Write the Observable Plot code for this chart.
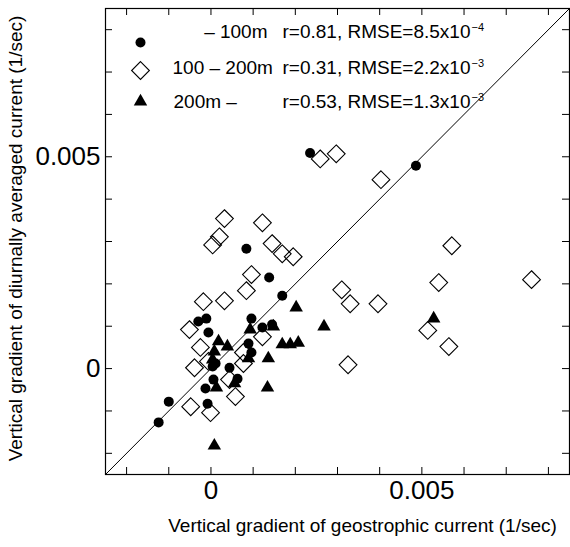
<!DOCTYPE html>
<html><head><meta charset="utf-8">
<script src="https://cdn.jsdelivr.net/npm/d3@7"></script>
<script src="https://cdn.jsdelivr.net/npm/@observablehq/plot@0.6"></script>
<style>body{margin:0;background:#fff}</style>
</head><body><div id="chart"></div>
<script>
// ---- data (1/sec) ----
// depth: - 100m (filled circles)
const shallowX = [0.00235,0.00486,0.00084,0.00138,0.00169,-0.00030,-0.00011,-0.00006,0.00096,0.00122,0.00145,0.00089,0.00096,0.00004,0.00011,0.00044,0.00006,0.00063,-0.00013,-0.00008,-0.00100,-0.00124];
const shallowY = [0.00509,0.00479,0.00283,0.00215,0.00172,0.00111,0.00118,0.00085,0.00118,0.00097,0.00104,0.00059,0.00038,0.00005,0.00012,0.00002,-0.00026,-0.00024,-0.00047,-0.00083,-0.00078,-0.00127];
// depth: 100 - 200m (open diamonds)
const midX = [0.00259,0.00297,0.00403,0.00032,0.00122,0.00020,0.00004,0.00145,0.00169,0.00195,0.00096,0.00084,-0.00018,0.00032,0.00571,0.00760,0.00540,0.00310,0.00330,0.00396,0.00514,0.00564,0.00325,-0.00051,-0.00025,-0.00039,-0.00048,-0.00001,0.00058,0.00044,0.00077,0.00122,-0.00006,0.00077];
const midY = [0.00495,0.00507,0.00446,0.00354,0.00344,0.00311,0.00292,0.00295,0.00271,0.00264,0.00222,0.00184,0.00158,0.00160,0.00290,0.00210,0.00203,0.00186,0.00153,0.00153,0.00090,0.00052,0.00009,0.00092,0.00050,0.00002,-0.00090,-0.00104,-0.00066,-0.00026,0.00038,0.00075,0.00017,0.00012];
// depth: 200m - (filled triangles)
const deepX = [0.00202,0.00268,0.00528,0.00093,0.00148,0.00018,0.00039,0.00008,0.00169,0.00188,0.00207,0.00089,0.00136,0.00004,0.00056,0.00013,0.00134,0.00008];
const deepY = [0.00144,0.00099,0.00118,0.00092,0.00099,0.00064,0.00052,0.00040,0.00057,0.00057,0.00061,0.00024,0.00024,0.00021,-0.00035,-0.00045,-0.00045,-0.00182];

const axisDomain = [-0.0025, 0.0085];
const tickValues = [-0.002,-0.001,0,0.001,0.002,0.003,0.004,0.005,0.006,0.007,0.008];
const labeledTicks = [0, 0.005];
const tickLabels = ["0", "0.005"];
const xTitle = "Vertical gradient of geostrophic current (1/sec)";
const yTitle = "Vertical gradient of diurnally averaged current (1/sec)";

const legendSymbols = ["circle", "diamond2", "triangle"];
const legendRanges = ["\u2013 100m", "100 \u2013 200m", "200m \u2013"];
const legendStats = ["r=0.81, RMSE=8.5x10", "r=0.31, RMSE=2.2x10", "r=0.53, RMSE=1.3x10"];
const legendExps = ["\u22124", "\u22123", "\u22123"];

// ---- build ----
const toRows = (xs, ys) => xs.map((x, i) => ({x, y: ys[i]}));
const shallow = toRows(shallowX, shallowY);
const mid = toRows(midX, midY);
const deep = toRows(deepX, deepY);

const W = 570, H = 547, ML = 105, MR = 1, MT = 8, MB = 73;
const frameW = W - ML - MR, frameH = H - MT - MB, TICK = 7;

const FONT = '"Liberation Sans", Arial, Helvetica, sans-serif';
const legFs = 19, expFs = 11;
const ctx = document.createElement("canvas").getContext("2d");
ctx.font = `${legFs}px "Liberation Sans"`;

const symStyle = [
  {r: 5, fill: "black", stroke: "none"},
  {r: 8, fill: "none", stroke: "black", strokeWidth: 1.1},
  {r: 5, fill: "black", stroke: "none"}
];
const symDy = [34, 62, 93];
const baseDy = [29, 65, 99];
const rangeOpts = [
  {dx: 162, textAnchor: "end"},
  {dx: 67, textAnchor: "start"},
  {dx: 68, textAnchor: "start"}
];
const statDx = 177;

const legendMarks = legendSymbols.flatMap((s, i) => {
  const w = ctx.measureText(legendStats[i]).width;
  return [
    Plot.dot([0], {frameAnchor: "top-left", dx: 35, dy: symDy[i], symbol: s, ...symStyle[i]}),
    Plot.text([legendRanges[i]], {frameAnchor: "top-left", text: d => d, lineAnchor: "bottom", fontSize: legFs, dy: baseDy[i], ...rangeOpts[i]}),
    Plot.text([legendStats[i]], {frameAnchor: "top-left", text: d => d, lineAnchor: "bottom", textAnchor: "start", fontSize: legFs, dx: statDx, dy: baseDy[i]}),
    Plot.text([legendExps[i]], {frameAnchor: "top-left", text: d => d, lineAnchor: "bottom", textAnchor: "start", fontSize: expFs, dx: statDx + w + 1, dy: baseDy[i] - 7})
  ];
});

const chart = Plot.plot({
  width: W, height: H,
  marginLeft: ML, marginRight: MR, marginTop: MT, marginBottom: MB,
  style: {fontFamily: FONT, background: "white", color: "black"},
  x: {domain: axisDomain, axis: null},
  y: {domain: axisDomain, axis: null},
  marks: [
    Plot.frame({stroke: "black", strokeWidth: 1.2}),
    // inward ticks on all four sides
    Plot.tickX(tickValues, {x: d => d, insetTop: frameH - TICK, stroke: "black"}),
    Plot.tickX(tickValues, {x: d => d, insetBottom: frameH - TICK, stroke: "black"}),
    Plot.tickY(tickValues, {y: d => d, insetRight: frameW - TICK, stroke: "black"}),
    Plot.tickY(tickValues, {y: d => d, insetLeft: frameW - TICK, stroke: "black"}),
    Plot.axisX({anchor: "bottom", ticks: labeledTicks, tickSize: 0, tickPadding: 6, fontSize: 26, tickFormat: d => tickLabels[labeledTicks.indexOf(d)], label: null}),
    Plot.axisY({anchor: "left", ticks: labeledTicks, tickSize: 0, tickPadding: 5, fontSize: 26, tickFormat: d => tickLabels[labeledTicks.indexOf(d)], label: null}),
    Plot.text([xTitle], {frameAnchor: "bottom", text: d => d, fontSize: 19, dy: 57, dx: 25}),
    Plot.text([yTitle], {frameAnchor: "left", text: d => d, fontSize: 19, rotate: -90, textAnchor: "middle", dx: -90, dy: -3}),
    Plot.line(axisDomain, {x: d => d, y: d => d, stroke: "black", strokeWidth: 1}),
    Plot.dot(mid, {x: "x", y: "y", symbol: "diamond2", r: 8, stroke: "black", fill: "none", strokeWidth: 1.1}),
    Plot.dot(shallow, {x: "x", y: "y", symbol: "circle", r: 5, fill: "black", stroke: "none"}),
    Plot.dot(deep, {x: "x", y: "y", symbol: "triangle", r: 5, fill: "black", stroke: "none"}),
    ...legendMarks
  ]
});
document.getElementById("chart").append(chart);
</script>
</body></html>
